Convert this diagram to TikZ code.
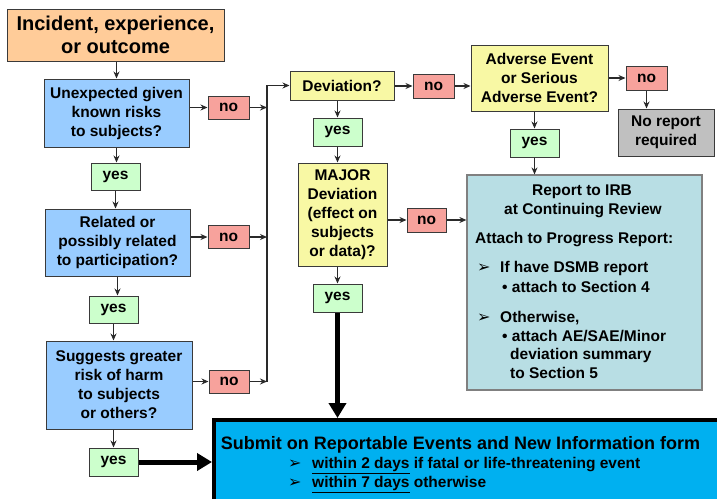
\documentclass[tikz,border=0pt]{standalone}
\usepackage{fontspec}
\setmainfont{Liberation Sans}
\newfontfamily\symfnt{DejaVu Sans}
\usetikzlibrary{arrows.meta}
\definecolor{cinc}{HTML}{FFCC99}
\definecolor{cq}{HTML}{99CCFF}
\definecolor{cyes}{HTML}{CCFFCC}
\definecolor{cno}{HTML}{F7A29C}
\definecolor{cdev}{HTML}{F8F8A4}
\definecolor{cnor}{HTML}{C0C0C0}
\definecolor{crep}{HTML}{B8DEE4}
\definecolor{csub}{HTML}{00B0F0}
\definecolor{bord}{HTML}{3A3A3A}
\definecolor{lc}{HTML}{2A2A2A}
\newcommand{\myarr}{{\symfnt\fontsize{16}{16}\selectfont ➢}}
\tikzset{
 bx/.style={draw=bord, line width=1pt, inner sep=0pt, align=center, font=\bfseries\fontsize{15.5}{19}\selectfont},
 wh/.style 2 args={minimum width=#1pt, minimum height=#2pt},
 ln/.style={draw=lc, line width=1.2pt, -{Stealth[length=7pt,width=6pt]}},
 fat/.style={draw=black, line width=5pt, -{Triangle[length=15pt,width=17pt]}},
 tx/.style={inner sep=0pt, anchor=base west, font=\bfseries\fontsize{15.5}{19}\selectfont},
 txc/.style={inner sep=0pt, anchor=base, font=\bfseries\fontsize{15.5}{19}\selectfont},
}
\begin{document}
\begin{tikzpicture}[x=1pt,y=-1pt]
\useasboundingbox (0,0) rectangle (717,498);
\clip (0,0) rectangle (717,498);
\fill[white] (0,0) rectangle (717,498);
% left column
\node[bx, wh={217}{52}, fill=cinc, font=\bfseries\fontsize{20}{23.5}\selectfont] (inc) at (115.5,35) {Incident, experience,\\or outcome};
\node[bx, wh={145}{68}, fill=cq] (q1) at (116.5,113) {Unexpected given\\known risks\\to subjects?};
\node[bx, wh={41}{23}, fill=cno] (no1) at (228.5,107.5) {no};
\node[bx, wh={49}{27}, fill=cyes] (yes1) at (115.5,176.5) {yes};
\node[bx, wh={145}{67}, fill=cq] (q2) at (117.5,242.5) {Related or\\possibly related\\to participation?};
\node[bx, wh={41}{23}, fill=cno] (no2) at (228.5,237) {no};
\node[bx, wh={49}{27}, fill=cyes] (yes2) at (113.5,309.5) {yes};
\node[bx, wh={146}{88}, fill=cq] (q3) at (119,385) {Suggests greater\\risk of harm\\to subjects\\or others?};
\node[bx, wh={40}{23}, fill=cno] (no3) at (229,381.5) {no};
\node[bx, wh={49}{28}, fill=cyes] (yes3) at (113.5,462) {yes};
% middle / right
\node[bx, wh={104}{29}, fill=cdev] (dev) at (342,85.5) {Deviation?};
\node[bx, wh={41}{24}, fill=cno] (no4) at (433.5,86) {no};
\node[bx, wh={137}{66}, fill=cdev] (ae) at (539.5,78) {Adverse Event\\or Serious\\Adverse Event?};
\node[bx, wh={41}{24}, fill=cno] (no5) at (646.5,78) {no};
\node[bx, wh={96}{47}, fill=cnor] (nor) at (666,132.5) {No report\\required};
\node[bx, wh={49}{28}, fill=cyes] (yes4) at (337.5,132) {yes};
\node[bx, wh={89}{103}, fill=cdev] (major) at (342.5,214.5) {MAJOR\\Deviation\\(effect on\\subjects\\or data)?};
\node[bx, wh={39}{24}, fill=cno] (no6) at (426.5,220) {no};
\node[bx, wh={49}{28}, fill=cyes] (yes5) at (534.5,143) {yes};
\node[bx, wh={49}{28}, fill=cyes] (yes6) at (337.5,298) {yes};
\node[bx, draw=gray, line width=1.2pt, wh={235}{215}, fill=crep] (rep) at (584.5,282.5) {};
\node[txc] (r1) at (582,195.5) {Report to IRB};
\node[txc] (r2) at (583,214.5) {at Continuing Review};
\node[tx] (r3) at (475,243.5) {Attach to Progress Report:};
\node[tx] (a1) at (477,272.5) {\myarr};
\node[tx] (t1) at (500,272.5) {If have DSMB report};
\node[tx] (t2) at (502,292.5) {• attach to Section 4};
\node[tx] (a2) at (477,322.5) {\myarr};
\node[tx] (t3) at (500,322.5) {Otherwise,};
\node[tx] (t4) at (502,341.5) {• attach AE/SAE/Minor};
\node[tx] (t5) at (510,359.5) {deviation summary};
\node[tx] (t6) at (510,378.5) {to Section 5};
% submit box
\node[draw=black, line width=4pt, fill=csub, anchor=north west, wh={520}{100}, inner sep=0pt] (sub) at (212,418) {};
\node[txc, font=\bfseries\fontsize{18}{21}\selectfont] (s1) at (460.5,449.5) {Submit on Reportable Events and New Information form};
\node[tx] (b1) at (288,468.5) {\myarr};
\node[tx] (s2) at (312,468.5) {\underline{within 2 days} if fatal or life-threatening event};
\node[tx] (b2) at (288,487.5) {\myarr};
\node[tx] (s3) at (312,487.5) {\underline{within 7 days} otherwise};
% connectors
\coordinate (bt) at (267,85.5);
\coordinate (bb) at (267,381.5);
\draw[ln] (q1.north |- inc.south) -- (q1.north);
\draw[ln] (q1.south) -- (q1.south |- yes1.north);
\draw[ln] (yes1.south) -- (yes1.south |- q2.north);
\draw[ln] (q2.south) -- (q2.south |- yes2.north);
\draw[ln] (yes2.south) -- (yes2.south |- q3.north);
\draw[ln] (yes3.north |- q3.south) -- (yes3.north);
\draw[ln] (q1.east |- no1.west) -- (no1.west);
\draw[ln] (q2.east |- no2.west) -- (no2.west);
\draw[ln] (q3.east |- no3.west) -- (no3.west);
\draw[ln] (no1.east) -- (no1.east -| bt);
\draw[ln] (no2.east) -- (no2.east -| bt);
\draw[ln] (no3.east) -- (no3.east -| bt);
\draw[ln] (bb) -- (bt) -- (dev.west);
\draw[ln] (dev.east |- no4.west) -- (no4.west);
\draw[ln] (no4.east) -- (no4.east -| ae.west);
\draw[ln] (ae.east |- no5.west) -- (no5.west);
\draw[ln] (no5.south) -- (no5.south |- nor.north);
\draw[ln] (yes4.north |- dev.south) -- (yes4.north);
\draw[ln] (yes4.south) -- (yes4.south |- major.north);
\draw[ln] (major.east |- no6.west) -- (no6.west);
\draw[ln] (no6.east) -- (no6.east -| rep.west);
\draw[ln] (yes5.north |- ae.south) -- (yes5.north);
\draw[ln] (yes5.south) -- (yes5.south |- rep.north);
\draw[ln] (yes6.north |- major.south) -- (yes6.north);
\draw[fat] (yes6.south) -- (yes6.south |- sub.north);
\draw[fat] (yes3.east) -- (yes3.east -| sub.west);
\end{tikzpicture}
\end{document}
